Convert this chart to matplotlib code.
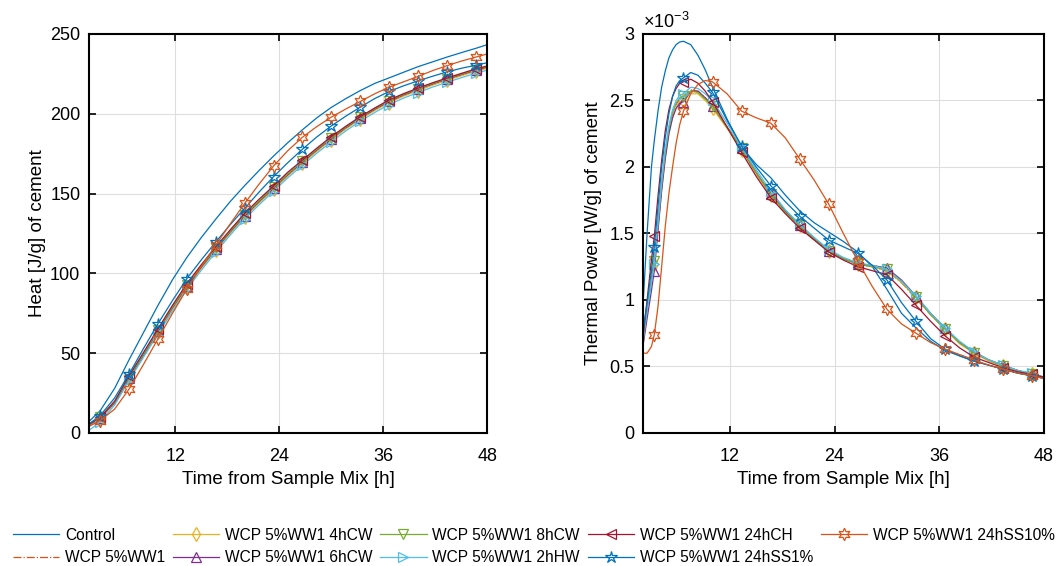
import numpy as np
import matplotlib.pyplot as plt

plt.rcParams['font.family'] = ['Liberation Sans', 'DejaVu Sans']
plt.rcParams['mathtext.fontset'] = 'custom'
plt.rcParams['mathtext.rm'] = 'Liberation Sans'

labels = ['Control', 'WCP 5%WW1', 'WCP 5%WW1 4hCW', 'WCP 5%WW1 6hCW', 'WCP 5%WW1 8hCW',
          'WCP 5%WW1 2hHW', 'WCP 5%WW1 24hCH', 'WCP 5%WW1 24hSS1%', 'WCP 5%WW1 24hSS10%']

# heat [J/g], read at these times [h]
t_heat = [2, 3.33, 5, 6.67, 8.33, 10, 11.67, 13.33, 15, 16.67, 18.33, 20, 21.67, 23.33, 25,
          26.67, 28.33, 30, 31.67, 33.33, 35, 36.67, 38.33, 40, 41.67, 43.33, 45, 46.67, 48]
heat_control = [7, 14, 28, 46, 63, 80, 96, 110, 122.5, 134, 145, 155, 164.5, 173.5, 182,
                190, 197.5, 204, 209.5, 214.5, 219, 222.5, 226, 229.5, 232.5, 235.5, 238.3, 241, 243.3]
heat_wcp = [4.5, 9, 19, 34.5, 49, 63.8, 78.3, 91.8, 103.8, 115, 125.7, 135.9, 144.7, 153.2, 161.7,
            169.5, 177, 184.2, 191, 197, 202.5, 207.5, 211.5, 215, 218.4, 221.4, 224.3, 227.1, 229]
heat_4hcw = [5, 9.3, 18.5, 34, 48.5, 63.2, 77.7, 91.2, 103.2, 114.5, 125.2, 135.4, 144.2, 152.7, 161.2,
             169, 176.5, 183.7, 190.5, 196.5, 202, 207, 211, 214.5, 217.9, 220.9, 223.8, 226.6, 228.5]
heat_6hcw = [5, 9.5, 19, 34.5, 49, 64, 78.5, 92, 104, 115.3, 126, 136.2, 145, 153.5, 162,
             169.8, 177.3, 184.5, 191.3, 197.3, 202.8, 207.8, 211.8, 215.3, 218.7, 221.7, 224.6, 227.4, 229.3]
heat_8hcw = [5.3, 9.8, 19.5, 35, 49.5, 64.5, 79, 92.5, 104.5, 115.8, 126.5, 136.7, 145.5, 154, 162.5,
             170.3, 177.8, 185, 191.7, 197.7, 203.2, 208.2, 212.2, 215.7, 219, 222, 224.9, 227.7, 229.6]
heat_2hhw = [1.5, 7, 17.5, 33, 47.5, 62, 76.5, 90, 102, 113.3, 124, 134.2, 143, 151.5, 160,
             167.8, 175.3, 182.5, 189.3, 195.3, 200.8, 205.8, 209.8, 213.3, 216.7, 219.7, 222.6, 225.4, 227.3]
heat_24hch = [5.5, 9.8, 20, 36, 50.5, 65.3, 80, 93.6, 105.5, 116.6, 127.3, 137.6, 146.5, 154.8, 163.5,
              171, 178.5, 185.7, 192.2, 198.2, 203.6, 208.7, 212.6, 216.1, 219.4, 222.4, 225.3, 228.1, 230]
heat_ss1 = [5.5, 10.9, 22, 37, 53, 68.5, 83, 96.7, 108.5, 119.7, 130.5, 140.7, 151, 160.6, 169.5,
            177.8, 185.5, 192.4, 198.5, 204.1, 209.5, 214, 217.5, 220.6, 223.5, 226.2, 228.5, 230.4, 232]
heat_ss10 = [4, 7.8, 15, 27.6, 43, 59, 75, 90.2, 104.5, 117.7, 131, 143.8, 156, 167.3, 177,
             185.3, 192, 197.9, 203, 207.7, 212.5, 216.7, 220, 223.4, 227, 230.1, 233, 235.5, 237.5]

# thermal power [x1e-3 W/g]
t_pow = [2, 2.5, 3, 3.33, 3.75, 4.17, 4.58, 5, 5.42, 5.83, 6.25, 6.67, 7.5, 8.33, 9.17, 10, 11.67,
         13.33, 15, 16.67, 18.33, 20, 21.67, 23.33, 25, 26.67, 28.33, 30, 31.67, 33.33, 35, 36.67,
         38.33, 40, 41.67, 43.33, 45, 46.67, 48]
pow_control = [0.92, 1.50, 2.00, 2.20, 2.42, 2.60, 2.72, 2.82, 2.88, 2.92, 2.94, 2.945, 2.92, 2.84, 2.73,
               2.60, 2.36, 2.15, 2.02, 1.92, 1.79, 1.67, 1.58, 1.51, 1.44, 1.36, 1.25, 1.08, 0.90,
               0.79, 0.69, 0.62, 0.58, 0.54, 0.51, 0.48, 0.45, 0.43, 0.41]
pow_wcp = [0.68, 0.92, 1.14, 1.28, 1.57, 1.86, 2.10, 2.28, 2.40, 2.47, 2.51, 2.53, 2.58, 2.57, 2.52,
           2.46, 2.30, 2.13, 1.95, 1.79, 1.66, 1.55, 1.45, 1.37, 1.31, 1.27, 1.25, 1.22, 1.13,
           1.01, 0.89, 0.78, 0.68, 0.60, 0.55, 0.50, 0.47, 0.44, 0.42]
pow_4hcw = [0.66, 0.90, 1.12, 1.27, 1.55, 1.83, 2.07, 2.25, 2.37, 2.45, 2.49, 2.50, 2.55, 2.55, 2.50,
            2.44, 2.29, 2.13, 1.95, 1.79, 1.66, 1.56, 1.46, 1.37, 1.31, 1.27, 1.25, 1.22, 1.13,
            1.02, 0.89, 0.78, 0.67, 0.60, 0.54, 0.50, 0.47, 0.44, 0.42]
pow_6hcw = [0.64, 0.86, 1.07, 1.22, 1.52, 1.82, 2.06, 2.25, 2.37, 2.44, 2.48, 2.49, 2.57, 2.57, 2.52,
            2.46, 2.30, 2.14, 1.96, 1.80, 1.67, 1.56, 1.46, 1.37, 1.31, 1.27, 1.26, 1.24, 1.15,
            1.03, 0.90, 0.79, 0.68, 0.61, 0.55, 0.51, 0.47, 0.44, 0.42]
pow_8hcw = [0.67, 0.92, 1.15, 1.29, 1.58, 1.87, 2.11, 2.29, 2.41, 2.48, 2.52, 2.53, 2.57, 2.56, 2.51,
            2.46, 2.30, 2.14, 1.96, 1.80, 1.66, 1.56, 1.46, 1.37, 1.31, 1.27, 1.25, 1.23, 1.14,
            1.02, 0.89, 0.78, 0.68, 0.60, 0.55, 0.50, 0.47, 0.44, 0.42]
pow_2hhw = [0.68, 0.92, 1.13, 1.27, 1.58, 1.88, 2.13, 2.31, 2.43, 2.50, 2.54, 2.55, 2.60, 2.59, 2.55,
            2.50, 2.33, 2.15, 1.98, 1.82, 1.68, 1.57, 1.47, 1.38, 1.32, 1.28, 1.26, 1.23, 1.14,
            1.03, 0.90, 0.79, 0.69, 0.61, 0.55, 0.51, 0.47, 0.45, 0.42]
pow_24hch = [0.70, 1.00, 1.30, 1.48, 1.78, 2.05, 2.27, 2.43, 2.53, 2.59, 2.63, 2.64, 2.66, 2.63, 2.57,
             2.49, 2.30, 2.11, 1.93, 1.77, 1.65, 1.54, 1.45, 1.36, 1.30, 1.25, 1.22, 1.19, 1.08,
             0.96, 0.84, 0.73, 0.64, 0.57, 0.53, 0.49, 0.46, 0.44, 0.42]
pow_ss1 = [0.75, 0.98, 1.22, 1.40, 1.70, 2.00, 2.22, 2.40, 2.53, 2.61, 2.65, 2.67, 2.71, 2.69, 2.63,
           2.56, 2.35, 2.16, 2.00, 1.86, 1.74, 1.63, 1.54, 1.45, 1.40, 1.35, 1.26, 1.15, 0.98,
           0.84, 0.71, 0.63, 0.58, 0.54, 0.51, 0.48, 0.45, 0.43, 0.41]
pow_ss10 = [0.60, 0.60, 0.65, 0.74, 0.95, 1.25, 1.55, 1.80, 2.00, 2.18, 2.32, 2.42, 2.55, 2.62, 2.65,
            2.64, 2.55, 2.42, 2.37, 2.33, 2.22, 2.06, 1.90, 1.72, 1.50, 1.29, 1.10, 0.93, 0.82,
            0.75, 0.68, 0.63, 0.59, 0.55, 0.51, 0.48, 0.45, 0.43, 0.41]

mark_t = [3.33, 6.67, 10, 13.33, 16.67, 20, 23.33, 26.67, 30, 33.33, 36.67, 40, 43.33, 46.67]

heat_all = [heat_control, heat_wcp, heat_4hcw, heat_6hcw, heat_8hcw, heat_2hhw, heat_24hch, heat_ss1, heat_ss10]
pow_all = [pow_control, pow_wcp, pow_4hcw, pow_6hcw, pow_8hcw, pow_2hhw, pow_24hch, pow_ss1, pow_ss10]

colors = ['#0072BD', '#D95319', '#EDB120', '#7E2F8E', '#77AC30', '#4DBEEE', '#A2142F', '#0072BD', '#D95319']
markers = [None, None, 'd', '^', 'v', '>', '<', '*', (6, 1, 0)]
styles = ['-', '-.', '-', '-', '-', '-', '-', '-', '-']
msizes = [0, 0, 7, 7, 7, 7, 7, 9, 9]

fig = plt.figure(figsize=(10.62, 5.66), dpi=100)
ax1 = fig.add_axes([0.0835, 0.235, 0.3754, 0.705])
ax2 = fig.add_axes([0.6052, 0.235, 0.3778, 0.705])


def draw(ax, t, series):
    t = np.asarray(t)
    idx = [int(np.argmin(np.abs(t - m))) for m in mark_t]
    for y, c, m, ls, ms, lab in zip(series, colors, markers, styles, msizes, labels):
        ax.plot(t, y, color=c, ls=ls, lw=0.9, marker=m, ms=ms, mfc='none', mew=0.9,
                markevery=idx, label=lab)


draw(ax1, t_heat, heat_all)
draw(ax2, t_pow, pow_all)

for ax in (ax1, ax2):
    ax.set_xlim(2, 48)
    ax.set_xticks([12, 24, 36, 48])
    ax.grid(True, color='#dedede', lw=0.8)
    ax.set_axisbelow(True)
    ax.tick_params(direction='in', top=True, right=True, length=5, width=1.2,
                   labelsize=13, pad=6)
    ax.tick_params(axis='x', pad=11)
    for s in ax.spines.values():
        s.set_linewidth(1.5)
    ax.set_xlabel('Time from Sample Mix [h]', fontsize=13.5, labelpad=4)

ax1.set_ylim(0, 250)
ax1.set_yticks([0, 50, 100, 150, 200, 250])
ax1.set_ylabel('Heat [J/g] of cement', fontsize=13.5, labelpad=3)

ax2.set_ylim(0, 3)
ax2.set_yticks([0, 0.5, 1, 1.5, 2, 2.5, 3])
ax2.set_yticklabels(['0', '0.5', '1', '1.5', '2', '2.5', '3'])
ax2.set_ylabel('Thermal Power [W/g] of cement', fontsize=13.5, labelpad=5)
ax2.text(0.0, 1.005, '\u00d710$^{-3}$', transform=ax2.transAxes, fontsize=13,
         ha='left', va='bottom')

h, l = ax1.get_legend_handles_labels()
fig.legend(h, l, loc='upper left', bbox_to_anchor=(0.012, 0.068), ncol=5, frameon=False,
           fontsize=11.2, handlelength=3.0, handletextpad=0.35, columnspacing=0.5,
           labelspacing=0.5, borderpad=0.0, borderaxespad=0.0)

fig.savefig('out.png', dpi=100)
